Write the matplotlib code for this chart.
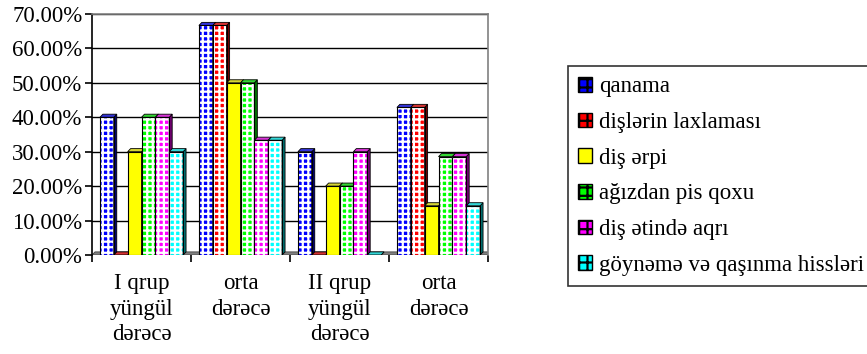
import matplotlib
matplotlib.use("Agg")
import matplotlib.pyplot as plt
import numpy as np
from matplotlib.patches import Polygon, Patch
from matplotlib.ticker import FuncFormatter, FixedLocator
from matplotlib import colors as mcolors

plt.rcParams['font.family'] = ['Liberation Serif', 'DejaVu Serif']
plt.rcParams['hatch.linewidth'] = 1.6

categories = ["I qrup\nyüngül\ndərəcə", "orta\ndərəcə",
              "II qrup\nyüngül\ndərəcə", "orta\ndərəcə"]
series_names = ["qanama", "dişlərin laxlaması", "diş ərpi",
                "ağızdan pis qoxu", "diş ətində aqrı",
                "göynəmə və qaşınma hissləri"]
qanama = [40.0, 66.67, 30.0, 42.86]
laxlama = [0.0, 66.67, 0.0, 42.86]
erp = [30.0, 50.0, 20.0, 14.29]
qoxu = [40.0, 50.0, 20.0, 28.57]
aqri = [40.0, 33.33, 30.0, 28.57]
goynema = [30.0, 33.33, 0.0, 14.29]
series = [qanama, laxlama, erp, qoxu, aqri, goynema]

face_colors = ["#0000ff", "#ff0000", "#ffff00", "#00ff00", "#ff00ff", "#00ffff"]
hatches = ["+++", "+++", None, "+++", "+++", "+++"]
FS = 16.5


def shade(c, f):
    r, g, b = mcolors.to_rgb(c)
    return (r * f, g * f, b * f)


def tint(c, f):
    r, g, b = mcolors.to_rgb(c)
    return (r + (1 - r) * f, g + (1 - g) * f, b + (1 - b) * f)


fig = plt.figure(figsize=(8.67, 3.54), dpi=100)
ax = fig.add_axes([92 / 867, 1 - 255 / 354, (488 - 92) / 867, (255 - 14) / 354])

x = np.arange(len(categories))
width = 0.14
dx, dy = 0.03, 0.9   # depth offset of the 3D look (x units, percent units)

# floor under the bars
ax.add_patch(Polygon([(-0.5, 0), (3.5, 0), (3.5 + dx, dy), (-0.5 + dx, dy)],
                     closed=True, facecolor="#808080", edgecolor="#404040",
                     lw=0.6, zorder=1))

for i, vals in enumerate(series):
    pos = x - 3 * width + (i + 0.5) * width
    z = 3 + i
    col = face_colors[i]
    if hatches[i]:
        ax.bar(pos, vals, width, color=col, edgecolor="white",
               hatch=hatches[i], linewidth=0, zorder=z)
    else:
        ax.bar(pos, vals, width, color=col, linewidth=0, zorder=z)
    ax.bar(pos, vals, width, fill=False, edgecolor="black", linewidth=0.8, zorder=z + 0.3)
    for p, h in zip(pos, vals):
        x0, x1 = p - width / 2, p + width / 2
        side = Polygon([(x1, 0), (x1 + dx, dy), (x1 + dx, h + dy), (x1, h)],
                       closed=True, facecolor=shade(col, 0.45), edgecolor="black",
                       lw=0.6, zorder=z + 0.1)
        top = Polygon([(x0, h), (x0 + dx, h + dy), (x1 + dx, h + dy), (x1, h)],
                      closed=True, facecolor=tint(shade(col, 0.8), 0.2), edgecolor="black",
                      lw=0.6, zorder=z + 0.2)
        ax.add_patch(side)
        ax.add_patch(top)

ax.set_xlim(-0.5, 3.5)
ax.set_ylim(0, 70)

ax.yaxis.set_major_locator(FixedLocator(np.arange(0, 71, 10)))
ax.yaxis.set_major_formatter(FuncFormatter(lambda v, _: f"{v:.2f}%"))
ax.grid(axis="y", color="black", linewidth=1.0, zorder=0)
ax.set_axisbelow(True)

ax.set_xticks(x)
ax.set_xticklabels(categories, fontsize=FS, linespacing=1.28)
ax.tick_params(axis="x", which="major", length=0, pad=13)
ax.set_xticks(np.arange(-0.5, 3.6, 1.0), minor=True)
ax.tick_params(axis="x", which="minor", length=5, width=1.2, direction="out")
ax.tick_params(axis="y", length=5, width=1.2, direction="out", labelsize=FS, pad=2)

for s in ["top", "right"]:
    ax.spines[s].set_color("#808080")
    ax.spines[s].set_linewidth(1.2)
ax.spines["left"].set_linewidth(1.2)
ax.spines["bottom"].set_visible(False)

handles = [Patch(facecolor=c, edgecolor="black", hatch=("++" if h else None), linewidth=1.0)
           for c, h in zip(face_colors, hatches)]
leg = fig.legend(handles, series_names, loc="upper left",
                 bbox_to_anchor=(568 / 867, 1 - 66 / 354),
                 fontsize=FS, frameon=True, fancybox=False, shadow=False,
                 handlelength=0.6, handleheight=0.6, handletextpad=0.3,
                 labelspacing=0.64, borderpad=0.45, borderaxespad=0)
leg.get_frame().set_edgecolor("black")
leg.get_frame().set_linewidth(1.2)

fig.savefig("out.png", dpi=100)
